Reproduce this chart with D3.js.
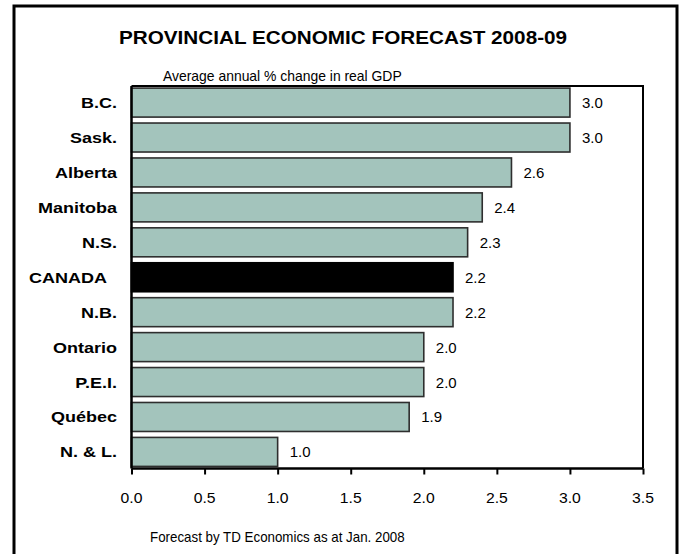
<!DOCTYPE html>
<html>
<head>
<meta charset="utf-8">
<script src="https://cdn.jsdelivr.net/npm/d3@7"></script>
<style>
  html, body { margin: 0; padding: 0; background: #fff; }
  svg { display: block; font-family: "Liberation Sans", Arial, sans-serif; }
</style>
</head>
<body>
<svg id="chart" width="683" height="554"></svg>
<script>
// Provinces / country, top to bottom
const regions = ["B.C.", "Sask.", "Alberta", "Manitoba", "N.S.", "CANADA", "N.B.", "Ontario", "P.E.I.", "Québec", "N. & L."];
// Average annual % change in real GDP, 2008-09
const growth = [3.0, 3.0, 2.6, 2.4, 2.3, 2.2, 2.2, 2.0, 2.0, 1.9, 1.0];
const xTicks = [0.0, 0.5, 1.0, 1.5, 2.0, 2.5, 3.0, 3.5];
const highlight = "CANADA";

const titleText = "PROVINCIAL ECONOMIC FORECAST 2008-09";
const subtitleText = "Average annual % change in real GDP";
const footerText = "Forecast by TD Economics as at Jan. 2008";

const svg = d3.select("#chart");

const plot = { left: 131.5, right: 643, top: 86, bottom: 468.5 };

const x = d3.scaleLinear().domain([0, 3.5]).range([plot.left, plot.right]);
const y = d3.scaleBand().domain(regions).range([plot.top, plot.bottom])
  .paddingInner(0.17).paddingOuter(0.06);

// text helper: label with optional horizontal stretch
function label(parent, tx, ty, str, opts) {
  const sx = opts.sx || 1;
  const g = parent.append("g").attr("transform", `translate(${tx},${ty}) scale(${sx},1)`);
  return g.append("text")
    .attr("x", 0).attr("y", 0)
    .attr("font-size", opts.size)
    .attr("font-weight", opts.bold ? "bold" : "normal")
    .attr("text-anchor", opts.anchor || "start")
    .attr("fill", "#000")
    .text(str);
}

// outer frame
svg.append("rect")
  .attr("x", 14).attr("y", 6).attr("width", 663).attr("height", 570)
  .attr("fill", "none").attr("stroke", "#000").attr("stroke-width", 3);

// title & subtitle
label(svg, 343, 44, titleText, { size: 19, bold: true, anchor: "middle", sx: 1.09 });
label(svg, 163, 81, subtitleText, { size: 14.5, sx: 0.96 });

// bars
const rows = regions.map((r, i) => ({ region: r, value: growth[i] }));
svg.append("g").selectAll("rect").data(rows).join("rect")
  .attr("x", x(0))
  .attr("y", d => y(d.region))
  .attr("width", d => x(d.value) - x(0))
  .attr("height", y.bandwidth())
  .attr("fill", d => d.region === highlight ? "#000" : "#a3c4bc")
  .attr("stroke", d => d.region === highlight ? "#000" : "#2e2e2e")
  .attr("stroke-width", 1.6);

// value labels
const vl = svg.append("g");
rows.forEach(d => {
  label(vl, x(d.value) + 12, y(d.region) + y.bandwidth() / 2 + 5.5, d3.format(".1f")(d.value), { size: 15 });
});

// category labels
const cl = svg.append("g");
rows.forEach(d => {
  const shift = d.region === highlight ? -10 : 0;
  label(cl, 117 + shift, y(d.region) + y.bandwidth() / 2 + 5.5, d.region, { size: 15, bold: true, anchor: "end", sx: 1.2 });
});

// plot frame (top and right)
svg.append("path")
  .attr("d", `M${plot.left},${plot.top}H${plot.right}V${plot.bottom}`)
  .attr("fill", "none").attr("stroke", "#000").attr("stroke-width", 2);

// x axis
const xAxis = svg.append("g")
  .attr("transform", `translate(0,${plot.bottom})`)
  .call(d3.axisBottom(x).tickValues(xTicks).tickSize(6).tickFormat(""));
xAxis.select(".domain").attr("stroke", "#000").attr("stroke-width", 2.5)
  .attr("d", `M${plot.left},0H${plot.right}`);
xAxis.selectAll(".tick line").attr("stroke", "#000").attr("stroke-width", 2);

const tl = svg.append("g");
xTicks.forEach(t => {
  label(tl, x(t), 503, d3.format(".1f")(t), { size: 15, anchor: "middle", sx: 1.05 });
});

// y axis line
const yAxis = svg.append("g")
  .attr("transform", `translate(${plot.left},0)`)
  .call(d3.axisLeft(y).tickSize(0).tickFormat(""));
yAxis.select(".domain").attr("stroke", "#000").attr("stroke-width", 2.5)
  .attr("d", `M0,${plot.top}V${plot.bottom}`);

// footer note
label(svg, 150, 542, footerText, { size: 14.5, sx: 0.92 });
</script>
</body>
</html>
